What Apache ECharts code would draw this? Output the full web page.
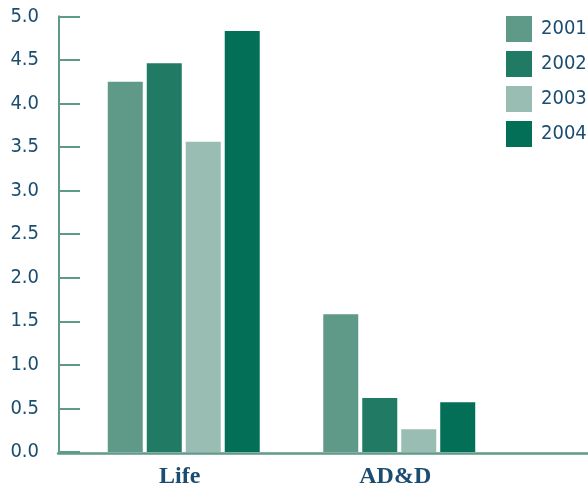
<!DOCTYPE html>
<html>
<head>
<meta charset="utf-8">
<script src="https://cdn.jsdelivr.net/npm/echarts@6/dist/echarts.min.js"></script>
<style>
  html, body { margin: 0; padding: 0; background: #ffffff; }
  #chart { width: 588px; height: 489px; }
</style>
</head>
<body>
<div id="chart"></div>
<script>
// Claim rates by coverage type, per year
const categories = ['Life', 'AD&D'];
const years = ['2001', '2002', '2003', '2004'];
const values2001 = [4.25, 1.58];
const values2002 = [4.46, 0.62];
const values2003 = [3.56, 0.26];
const values2004 = [4.83, 0.57];
const yTicks = { min: 0, max: 5, interval: 0.5 };

const seriesValues = [values2001, values2002, values2003, values2004];
const colors = ['#5f9a88', '#217a64', '#99bdb2', '#036f56'];
const axisColor = '#5f9a88';
const textColor = '#1b4d70';
const sansNarrow = '"DejaVu Sans Condensed", "Liberation Sans Narrow", sans-serif';

const chart = echarts.init(document.getElementById('chart'));

chart.setOption({
  animation: false,
  backgroundColor: '#ffffff',
  legend: {
    orient: 'vertical',
    left: 506,
    top: 16,
    padding: 0,
    itemWidth: 26,
    itemHeight: 26,
    itemGap: 9,
    icon: 'rect',
    textStyle: {
      fontFamily: sansNarrow,
      fontSize: 20,
      color: textColor,
      padding: [0, 0, 0, 4]
    },
    data: years
  },
  grid: [
    { left: 76, right: 81, top: 16.3, bottom: 35.5 },
    { left: 58, right: 0, top: 16.3, bottom: 35.5 }
  ],
  xAxis: [
    {
      type: 'category',
      gridIndex: 0,
      data: categories,
      axisLine: { show: false },
      axisTick: { show: false },
      axisLabel: {
        margin: 13,
        fontFamily: '"Liberation Serif", "Times New Roman", serif',
        fontWeight: 'bold',
        fontSize: 24,
        color: textColor,
        padding: [0, 8, 0, 0]
      }
    },
    {
      type: 'value',
      gridIndex: 1,
      min: 0,
      max: 1,
      axisLine: { show: true, lineStyle: { color: axisColor, width: 2.5 } },
      axisTick: { show: false },
      axisLabel: { show: false },
      splitLine: { show: false }
    }
  ],
  yAxis: [
    {
      type: 'value',
      gridIndex: 0,
      min: yTicks.min,
      max: yTicks.max,
      interval: yTicks.interval,
      offset: 17,
      axisLine: { show: true, lineStyle: { color: axisColor, width: 2 } },
      axisTick: { show: true, inside: true, length: 21, lineStyle: { color: axisColor, width: 2 } },
      splitLine: { show: false },
      axisLabel: {
        margin: 20,
        fontFamily: sansNarrow,
        fontSize: 20,
        color: textColor,
        padding: [6, 0, 0, 0],
        formatter: (v) => v.toFixed(1)
      }
    },
    {
      type: 'value',
      gridIndex: 1,
      show: false,
      min: 0,
      max: 1
    }
  ],
  series: years.map((year, i) => ({
    name: year,
    type: 'bar',
    xAxisIndex: 0,
    yAxisIndex: 0,
    barWidth: 35,
    barGap: '11.4%',
    itemStyle: { color: colors[i] },
    data: seriesValues[i]
  }))
});
</script>
</body>
</html>
